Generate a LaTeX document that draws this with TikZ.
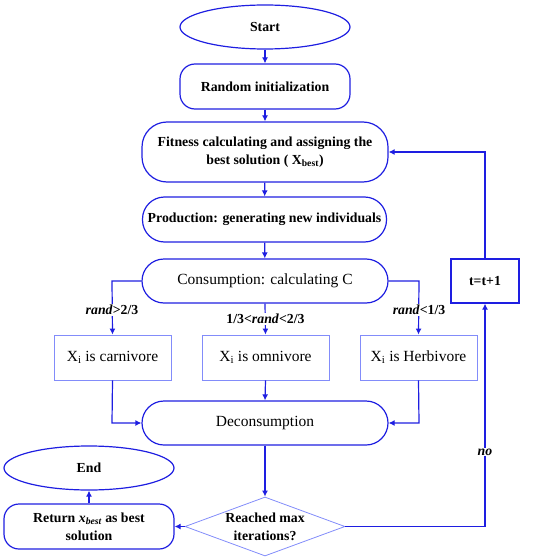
\documentclass[tikz,border=0pt]{standalone}
\usepackage{fontspec}
\setmainfont{Liberation Serif}
\usetikzlibrary{shapes.geometric,arrows.meta}
\definecolor{mainblue}{RGB}{30,30,225}
\definecolor{lightblue}{RGB}{130,140,250}
\newcommand{\bfsz}{\fontsize{13.8}{18}\selectfont\bfseries}
\newcommand{\rgsz}{\fontsize{15.5}{18}\selectfont}
\tikzset{
  base/.style={draw=mainblue, line width=1.2pt, align=center, inner sep=1pt, font=\rgsz},
  term/.style={base, ellipse, minimum width=170pt, minimum height=44pt, font=\bfsz},
  proc/.style={base, rounded corners=15pt, minimum height=45pt},
  leaf/.style={draw=lightblue, line width=0.8pt, minimum height=45pt, align=center, font=\rgsz},
  dec/.style={draw=lightblue, line width=0.8pt, diamond, aspect=2.7, minimum width=160pt, minimum height=59pt, inner sep=0pt, align=center, font=\bfsz},
  conn/.style={draw=mainblue, line width=1.2pt, -{Latex[length=6pt,width=6pt]}},
  lbl/.style={font=\bfsz, fill=white, inner sep=1pt},
}
\begin{document}
\begin{tikzpicture}[x=1pt,y=-1pt]
\useasboundingbox (0,0) rectangle (550,559);
\node[term] (start) at (265,27) {Start};
\node[proc, minimum width=170pt, font=\bfsz] (init) at (265,86.5) {Random initialization};
\node[proc, minimum width=246pt, minimum height=60pt, rounded corners=25pt, font=\bfsz] (fit) at (265,152) {Fitness calculating and assigning the\\best solution ( X\textsubscript{best})};
\node[proc, minimum width=244pt, rounded corners=22pt, font=\bfsz] (prod) at (264.5,219.5) {Production: generating new individuals};
\node[proc, minimum width=246pt, minimum height=44pt, rounded corners=22pt] (cons) at (265,281) {Consumption: calculating C};
\node[leaf, minimum width=117pt] (carn) at (112.5,357.5) {X\textsubscript{i} is carnivore};
\node[leaf, minimum width=127pt] (omni) at (265.5,357.5) {X\textsubscript{i} is omnivore};
\node[leaf, minimum width=117pt] (herb) at (418.5,357.5) {X\textsubscript{i} is Herbivore};
\node[proc, minimum width=246pt, minimum height=44pt, rounded corners=22pt] (decons) at (265,423) {Deconsumption};
\node[dec] (reach) at (265,526.5) {Reached max\\iterations?};
\node[proc, minimum width=170pt, rounded corners=15pt, font=\bfsz] (ret) at (89,526.5) {Return \textit{x\textsubscript{best}} as best\\solution};
\node[term] (end) at (89,468) {End};
\node[base, minimum width=68pt, minimum height=44pt, font=\bfsz] (tinc) at (485,281) {t=t+1};
\coordinate (cl) at (112,281);
\coordinate (cr) at (419,281);
\coordinate (dl) at (112,423);
\coordinate (dr) at (419,423);
\coordinate (nb) at (485,526.5);
\coordinate (nt) at (485,152);
\draw[conn] (start) -- (init);
\draw[conn] (init) -- (fit);
\draw[conn] (fit) -- (prod);
\draw[conn] (prod) -- (cons);
\draw[conn] (cons.west) -- (cl) -- (carn.north);
\draw[conn] (cons.east) -- (cr) -- (herb.north);
\draw[conn] (cons.south) -- (omni.north);
\draw[conn] (carn.south) -- (dl) -- (decons.west);
\draw[conn] (herb.south) -- (dr) -- (decons.east);
\draw[conn] (omni.south) -- (decons.north);
\draw[conn] (decons) -- (reach);
\draw[conn] (reach.west) -- (ret.east);
\draw[conn] (ret) -- (end);
\draw[conn] (reach.east) -- (nb) -- (tinc.south);
\draw[conn] (tinc.north) -- (nt) -- (fit.east);
\node[lbl] at (112,310) {\textit{rand}>2/3};
\node[lbl] at (265.5,319) {1/3<\textit{rand}<2/3};
\node[lbl] at (419,310) {\textit{rand}<1/3};
\node[lbl] at (485,452) {\textit{no}};
\end{tikzpicture}
\end{document}
